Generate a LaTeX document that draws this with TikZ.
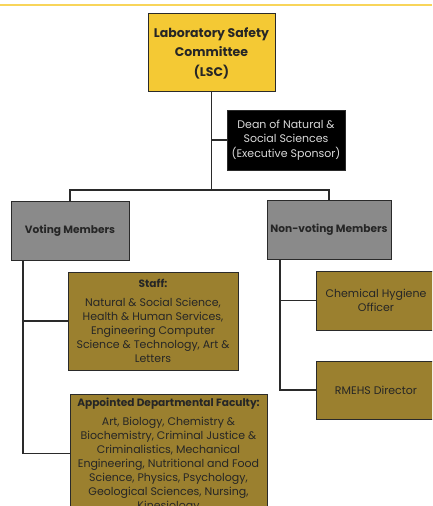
\documentclass[tikz,border=0pt]{standalone}
\usepackage{fontspec}
\setmainfont{Poppins}
\definecolor{lscgold}{HTML}{F4C934}
\definecolor{topline}{HTML}{F8D55A}
\definecolor{olivegold}{HTML}{9B802F}
\definecolor{membergrey}{HTML}{8A8A8A}
\definecolor{boxline}{HTML}{2A2A2A}
\begin{document}
\begin{tikzpicture}[x=1pt,y=1pt,
    orgbox/.style={draw=boxline,line width=0.9pt,align=center,inner sep=2pt,text=black!85},
    lscbox/.style={orgbox,fill=lscgold,minimum width=127,minimum height=78,font=\fontsize{12.5}{19}\selectfont\bfseries},
    deanbox/.style={orgbox,fill=black,text=white!85!black,minimum width=118,minimum height=60,font=\fontsize{11}{14.5}\selectfont},
    memberbox/.style={orgbox,fill=membergrey,minimum height=59,font=\fontsize{10.6}{12}\selectfont\bfseries},
    unitbox/.style={orgbox,fill=olivegold,font=\fontsize{11}{14}\selectfont},
    link/.style={draw=boxline,line width=1.2pt}]
  \useasboundingbox (0,0) rectangle (432,-506);
  \clip (0,0) rectangle (432,-506);
  % top rule
  \fill[topline] (0,-4) rectangle (432,-6);
  % LSC and sponsor
  \node[lscbox] (LSC) at (211.5,-52) {};
  \node[lscbox,draw=none,fill=none,anchor=north,minimum height=0pt,inner sep=0pt] (LSCtext) at (211.5,-27)
    {Laboratory Safety\\Committee\\[1pt](LSC)};
  \node[deanbox] (Dean) at (286,-140) {Dean of Natural \&\\Social Sciences\\(Executive Sponsor)};
  \coordinate (hub) at (211.5,-190);
  % member groups
  \node[memberbox,minimum width=118] (Voting) at (70,-230.5) {Voting Members};
  \node[memberbox,minimum width=124] (Nonvoting) at (329,-230) {Non-voting Members};
  % voting members
  \node[unitbox,minimum width=170,minimum height=98] (Staff) at (153,-321)
    {{\fontsize{10.6}{14}\selectfont\bfseries Staff:}\\[5pt]Natural \& Social Science,\\Health \& Human Services,\\Engineering Computer\\Science \& Technology, Art \&\\Letters};
  \node[unitbox,minimum width=197,minimum height=118,anchor=north] (Faculty) at (168.5,-394) {};
  \node[unitbox,draw=none,fill=none,anchor=north,inner sep=0pt] (Facultytext) at (168.5,-397.5)
    {{\fontsize{10.6}{14}\selectfont\bfseries Appointed Departmental Faculty:}\\[5pt]Art, Biology, Chemistry \&\\Biochemistry, Criminal Justice \&\\Criminalistics, Mechanical\\Engineering, Nutritional and Food\\Science, Physics, Psychology,\\Geological Sciences, Nursing,\\Kinesiology};
  % non-voting members
  \node[unitbox,minimum width=120,minimum height=59] (Chemical) at (376,-300.5) {Chemical Hygiene\\Officer};
  \node[unitbox,minimum width=120,minimum height=58] (RMEHS) at (376,-390) {RMEHS Director};
  % connectors
  \coordinate (vtrunk) at (23,-260);
  \coordinate (ntrunk) at (280,-259);
  \draw[link] (LSC.south) -- (hub);
  \draw[link] (Dean.west) -- (Dean.west -| LSC.south);
  \draw[link] (Voting.north) |- (hub) -| (Nonvoting.north);
  \draw[link] (vtrunk) |- (Staff.west);
  \draw[link] (vtrunk) |- (Faculty.west);
  \draw[link] (ntrunk) |- (Chemical.west);
  \draw[link] (ntrunk) |- (RMEHS.west);
\end{tikzpicture}
\end{document}
